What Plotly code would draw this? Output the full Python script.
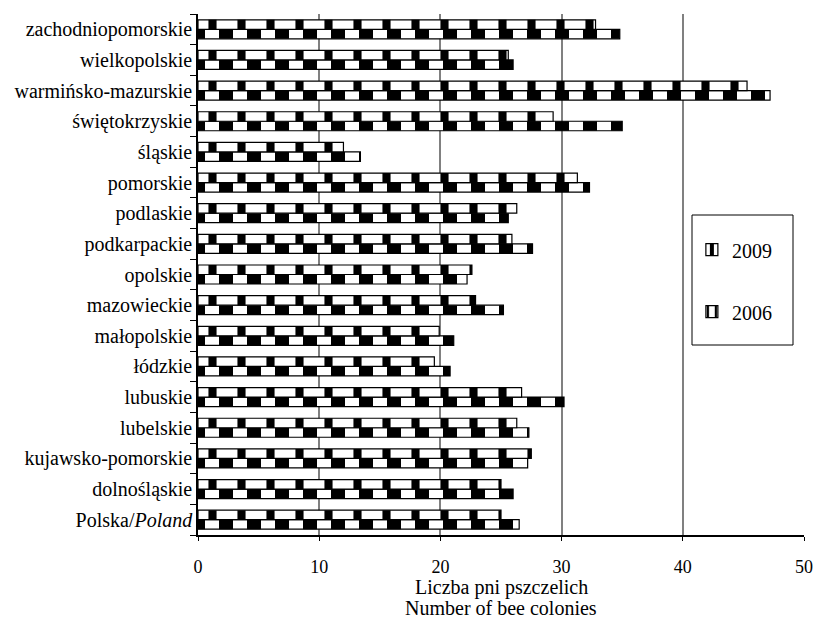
import plotly.graph_objects as go

categories = ["Polska/Poland", "dolnośląskie", "kujawsko-pomorskie", "lubelskie", "lubuskie",
              "łódzkie", "małopolskie", "mazowieckie", "opolskie", "podkarpackie", "podlaskie",
              "pomorskie", "śląskie", "świętokrzyskie", "warmińsko-mazurskie", "wielkopolskie",
              "zachodniopomorskie"]
tick_labels = ["Polska/<i>Poland</i>", "dolnośląskie", "kujawsko-pomorskie", "lubelskie", "lubuskie",
               "łódzkie", "małopolskie", "mazowieckie", "opolskie", "podkarpackie", "podlaskie",
               "pomorskie", "śląskie", "świętokrzyskie", "warmińsko-mazurskie", "wielkopolskie",
               "zachodniopomorskie"]
values_2009 = [26.5, 26.0, 27.2, 27.3, 30.2, 20.8, 21.1, 25.2, 22.2, 27.6, 25.6,
               32.3, 13.4, 35.0, 47.2, 26.0, 34.8]
values_2006 = [25.0, 25.0, 27.5, 26.3, 26.7, 19.5, 19.9, 22.9, 22.6, 25.9, 26.3,
               31.3, 12.0, 29.3, 45.3, 25.6, 32.8]
x_ticks = [0, 10, 20, 30, 40, 50]

FONT = "Liberation Serif"

fig = go.Figure()
fig.add_trace(go.Bar(
    y=categories, x=values_2009, orientation="h", name="2009",
    marker=dict(color="black", line=dict(color="black", width=1.2),
                pattern=dict(shape="|", fillmode="replace", bgcolor="black",
                             fgcolor="white", size=28, solidity=0.5)),
    legendgroup="a",
))
fig.add_trace(go.Bar(
    y=categories, x=values_2006, orientation="h", name="2006",
    marker=dict(color="white", line=dict(color="black", width=1.2),
                pattern=dict(shape="|", fillmode="replace", bgcolor="white",
                             fgcolor="black", size=29, solidity=0.28)),
    legendgroup="b",
))

fig.update_layout(
    width=814, height=622,
    margin=dict(l=198, r=10, t=14, b=87),
    paper_bgcolor="white", plot_bgcolor="white",
    barmode="group", bargap=0.38, bargroupgap=0,
    font=dict(family=FONT, size=18, color="black"),
    showlegend=True,
    legend=dict(x=0.815, y=0.585, xanchor="left", yanchor="top",
                bgcolor="rgba(0,0,0,0)", borderwidth=0,
                traceorder="grouped", tracegroupgap=33,
                font=dict(family=FONT, size=20)),
    shapes=[dict(type="rect", xref="paper", yref="paper",
                 x0=(692 - 198) / 606, x1=(793 - 198) / 606,
                 y0=(535 - 345) / 521, y1=(535 - 215) / 521,
                 line=dict(color="black", width=1), fillcolor="rgba(0,0,0,0)")],
    annotations=[
        dict(text="Liczba pni pszczelich", xref="paper", yref="paper",
             x=0.5, y=-(587 - 535) / 521, xanchor="center", yanchor="middle",
             showarrow=False, font=dict(family=FONT, size=20)),
        dict(text="Number of bee colonies", xref="paper", yref="paper",
             x=0.5, y=-(608 - 535) / 521, xanchor="center", yanchor="middle",
             showarrow=False, font=dict(family=FONT, size=20)),
    ],
)
fig.update_xaxes(range=[0, 50], tickvals=x_ticks, ticktext=[str(v) for v in x_ticks],
                 showgrid=True, gridcolor="#808080", gridwidth=1.5,
                 showline=True, linecolor="black", linewidth=1.5,
                 ticks="outside", ticklen=4, tickcolor="black",
                 ticklabelstandoff=11, ticklabeloverflow="allow", zeroline=False,
                 automargin=False, tickfont=dict(family=FONT, size=18))
fig.update_yaxes(type="category", categoryorder="array", categoryarray=categories,
                 tickvals=categories, ticktext=tick_labels,
                 showline=True, linecolor="black", linewidth=1.5,
                 ticks="outside", ticklen=6, tickcolor="black", tickson="boundaries",
                 showgrid=False, automargin=False, tickfont=dict(family=FONT, size=20))

fig.write_html("out.html", config={"displayModeBar": False},
               post_script="document.body.style.margin='0';document.body.style.overflow='hidden';")
